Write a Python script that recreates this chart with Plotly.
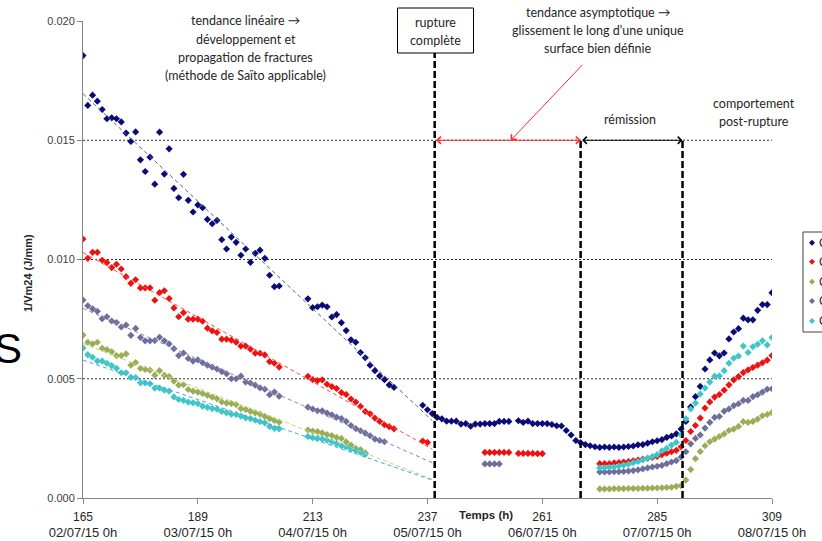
import numpy as np
import plotly.graph_objects as go

# ---- canvas / margins -------------------------------------------------------
W, H = 822, 541
M_L, M_R, M_T, M_B = 83, 50, 21, 43
PW, PH = W - M_L - M_R, H - M_T - M_B


def fx(px):
    """pixel column -> paper x"""
    return (px - M_L) / PW


def fy(py):
    """pixel row -> paper y"""
    return (H - M_B - py) / PH


# ---- axes -------------------------------------------------------------------
TICK_HOURS = [165, 189, 213, 237, 261, 285, 309]
TICK_DATES = ["02/07/15 0h", "03/07/15 0h", "04/07/15 0h", "05/07/15 0h",
              "06/07/15 0h", "07/07/15 0h", "08/07/15 0h"]
Y_TICKS = [0.000, 0.005, 0.010, 0.015, 0.020]
GRID_Y = [0.005, 0.010, 0.015]

# ---- phases (hours) ---------------------------------------------------------
RUPTURE_H = 238.5
REMISSION_START_H = 269.0
REMISSION_END_H = 290.3
TREND_FIT_END_H = 231
TREND_END_H = 238

SERIES_NAMES = ["Capteur 1", "Capteur 2", "Capteur 3", "Capteur 4", "Capteur 5"]
SERIES_COLORS = ["#0a0a78", "#ee1111", "#9aae58", "#6e6e9c", "#3ec6c8"]
TREND_COLORS = ["#56648c", "#ff4a4a", "#c4d86a", "#8c86b8", "#45a8dc"]

# ---- measurements: 1/Vm24 (J/mm) ----------------------------------------------
c1_hours = [*range(165, 207), *range(212, 231), *range(236, 255), *range(256, 310)]
c1_values = [
    0.01855, 0.01646, 0.01689, 0.01664, 0.01629, 0.01590, 0.01594, 0.01590, 0.01577, 0.01530,
    0.01495, 0.01535, 0.01418, 0.01369, 0.01429, 0.01316, 0.01534, 0.01358, 0.01464, 0.01298,
    0.01259, 0.01357, 0.01248, 0.01199, 0.01229, 0.01217, 0.01168, 0.01150, 0.01164, 0.01083,
    0.01044, 0.01094, 0.01072, 0.01018, 0.01044, 0.00988, 0.01026, 0.01039, 0.01005, 0.00934,
    0.00886, 0.00889,
    0.00835, 0.00798, 0.00802, 0.00809, 0.00802, 0.00759, 0.00769, 0.00735, 0.00702, 0.00663,
    0.00653, 0.00610, 0.00588, 0.00557, 0.00534, 0.00512, 0.00496, 0.00474, 0.00464,
    0.00389, 0.00370, 0.00354, 0.00338, 0.00332, 0.00322, 0.00322, 0.00322, 0.00310, 0.00312,
    0.00301, 0.00310, 0.00310, 0.00312, 0.00312, 0.00312, 0.00321, 0.00321, 0.00321,
    0.00324, 0.00317, 0.00322, 0.00312, 0.00312, 0.00312, 0.00312, 0.00308, 0.00303, 0.00302,
    0.00283, 0.00264, 0.00241, 0.00232, 0.00224, 0.00219, 0.00215, 0.00212, 0.00214, 0.00212,
    0.00214, 0.00212, 0.00214, 0.00216, 0.00218, 0.00223, 0.00224, 0.00230, 0.00236, 0.00240,
    0.00245, 0.00254, 0.00260, 0.00269, 0.00289, 0.00321, 0.00382, 0.00425, 0.00468, 0.00541,
    0.00579, 0.00608, 0.00596, 0.00608, 0.00667, 0.00696, 0.00710, 0.00754, 0.00747, 0.00747,
    0.00787, 0.00811, 0.00811, 0.00861,
]

c2_hours = [*range(165, 207), *range(212, 231), 236, 237,
            *range(249, 255), *range(256, 262), *range(273, 310)]
c2_values = [
    0.01086, 0.01005, 0.01030, 0.01030, 0.00997, 0.00987, 0.00966, 0.00980, 0.00960, 0.00928,
    0.00900, 0.00915, 0.00881, 0.00881, 0.00881, 0.00829, 0.00861, 0.00869, 0.00836, 0.00797,
    0.00760, 0.00777, 0.00750, 0.00750, 0.00750, 0.00741, 0.00712, 0.00701, 0.00694, 0.00666,
    0.00666, 0.00662, 0.00653, 0.00637, 0.00637, 0.00624, 0.00607, 0.00607, 0.00600, 0.00572,
    0.00565, 0.00549,
    0.00510, 0.00496, 0.00492, 0.00495, 0.00477, 0.00467, 0.00459, 0.00442, 0.00434, 0.00415,
    0.00402, 0.00384, 0.00363, 0.00353, 0.00335, 0.00321, 0.00307, 0.00299, 0.00290,
    0.00239, 0.00233,
    0.00191, 0.00191, 0.00191, 0.00191, 0.00191, 0.00191,
    0.00187, 0.00187, 0.00187, 0.00187, 0.00186, 0.00186,
    0.00144, 0.00144, 0.00144, 0.00147, 0.00149, 0.00151, 0.00153, 0.00156, 0.00159, 0.00163,
    0.00166, 0.00170, 0.00174, 0.00182, 0.00188, 0.00194, 0.00200, 0.00215, 0.00241, 0.00279,
    0.00304, 0.00335, 0.00377, 0.00403, 0.00423, 0.00434, 0.00452, 0.00474, 0.00495, 0.00509,
    0.00526, 0.00537, 0.00547, 0.00557, 0.00567, 0.00578, 0.00597,
]

c3_hours = [*range(165, 207), *range(212, 225), *range(273, 310)]
c3_values = [
    0.00683, 0.00653, 0.00646, 0.00653, 0.00628, 0.00622, 0.00613, 0.00597, 0.00597, 0.00604,
    0.00557, 0.00568, 0.00543, 0.00539, 0.00536, 0.00515, 0.00534, 0.00515, 0.00509, 0.00490,
    0.00473, 0.00475, 0.00455, 0.00448, 0.00444, 0.00438, 0.00431, 0.00423, 0.00416, 0.00403,
    0.00398, 0.00396, 0.00392, 0.00375, 0.00371, 0.00363, 0.00357, 0.00352, 0.00342, 0.00333,
    0.00325, 0.00318,
    0.00285, 0.00281, 0.00279, 0.00273, 0.00266, 0.00262, 0.00254, 0.00250, 0.00235, 0.00222,
    0.00208, 0.00203, 0.00189,
    0.00038, 0.00038, 0.00038, 0.00039, 0.00039, 0.00039, 0.00040, 0.00040, 0.00040, 0.00041,
    0.00041, 0.00042, 0.00042, 0.00043, 0.00044, 0.00045, 0.00049, 0.00052, 0.00075, 0.00119,
    0.00165, 0.00195, 0.00219, 0.00236, 0.00247, 0.00258, 0.00269, 0.00283, 0.00289, 0.00300,
    0.00320, 0.00317, 0.00321, 0.00331, 0.00345, 0.00350, 0.00358,
]

c4_hours = [*range(165, 207), *range(212, 229), *range(249, 253), *range(273, 310)]
c4_values = [
    0.00830, 0.00806, 0.00793, 0.00783, 0.00752, 0.00760, 0.00742, 0.00736, 0.00717, 0.00725,
    0.00682, 0.00711, 0.00673, 0.00659, 0.00659, 0.00660, 0.00674, 0.00659, 0.00646, 0.00626,
    0.00597, 0.00608, 0.00585, 0.00574, 0.00579, 0.00567, 0.00557, 0.00549, 0.00541, 0.00530,
    0.00521, 0.00500, 0.00500, 0.00511, 0.00486, 0.00482, 0.00473, 0.00462, 0.00456, 0.00433,
    0.00444, 0.00427,
    0.00381, 0.00373, 0.00366, 0.00366, 0.00356, 0.00349, 0.00339, 0.00333, 0.00321, 0.00304,
    0.00291, 0.00282, 0.00272, 0.00261, 0.00247, 0.00241, 0.00236,
    0.00143, 0.00143, 0.00143, 0.00143,
    0.00109, 0.00109, 0.00109, 0.00110, 0.00110, 0.00111, 0.00113, 0.00115, 0.00118, 0.00122,
    0.00126, 0.00130, 0.00133, 0.00137, 0.00144, 0.00151, 0.00157, 0.00172, 0.00194, 0.00227,
    0.00250, 0.00264, 0.00293, 0.00317, 0.00338, 0.00342, 0.00364, 0.00373, 0.00387, 0.00395,
    0.00409, 0.00409, 0.00425, 0.00433, 0.00444, 0.00456, 0.00458,
]

c5_hours = [*range(165, 207), *range(212, 225), *range(273, 310)]
c5_values = [
    0.00629, 0.00601, 0.00590, 0.00574, 0.00574, 0.00565, 0.00555, 0.00544, 0.00525, 0.00525,
    0.00506, 0.00505, 0.00483, 0.00482, 0.00479, 0.00461, 0.00461, 0.00452, 0.00448, 0.00424,
    0.00413, 0.00409, 0.00402, 0.00399, 0.00396, 0.00385, 0.00380, 0.00375, 0.00372, 0.00363,
    0.00358, 0.00351, 0.00350, 0.00343, 0.00336, 0.00333, 0.00326, 0.00320, 0.00315, 0.00300,
    0.00292, 0.00290,
    0.00258, 0.00253, 0.00250, 0.00247, 0.00242, 0.00236, 0.00228, 0.00219, 0.00214, 0.00206,
    0.00199, 0.00192, 0.00183,
    0.00126, 0.00127, 0.00129, 0.00130, 0.00134, 0.00138, 0.00142, 0.00148, 0.00153, 0.00160,
    0.00167, 0.00174, 0.00182, 0.00198, 0.00208, 0.00222, 0.00233, 0.00265, 0.00332, 0.00373,
    0.00398, 0.00436, 0.00461, 0.00486, 0.00511, 0.00512, 0.00534, 0.00565, 0.00586, 0.00595,
    0.00637, 0.00610, 0.00634, 0.00645, 0.00659, 0.00642, 0.00673,
]

ALL_HOURS = [c1_hours, c2_hours, c3_hours, c4_hours, c5_hours]
ALL_VALUES = [c1_values, c2_values, c3_values, c4_values, c5_values]

fig = go.Figure()

# measured points
for name, hrs, vals, col in zip(SERIES_NAMES, ALL_HOURS, ALL_VALUES, SERIES_COLORS):
    assert len(hrs) == len(vals), name
    fig.add_trace(go.Scatter(
        x=hrs, y=vals, mode="markers", name=name, showlegend=False,
        marker=dict(symbol="diamond", size=5.5, color=col, line=dict(width=0)),
    ))

# linear trend of the pre-rupture phase (least squares), extended to rupture
for hrs, vals, col in zip(ALL_HOURS, ALL_VALUES, TREND_COLORS):
    h = np.asarray(hrs, dtype=float)
    v = np.asarray(vals, dtype=float)
    sel = h <= TREND_FIT_END_H
    slope, icpt = np.polyfit(h[sel], v[sel], 1)
    xt = np.array([h[0], TREND_END_H])
    fig.add_trace(go.Scatter(
        x=xt, y=slope * xt + icpt, mode="lines", showlegend=False, hoverinfo="skip",
        line=dict(color=col, width=1, dash="4px,3px"),
    ))

shapes = []
# dotted horizontal grid
for gy in GRID_Y:
    shapes.append(dict(type="line", xref="x", yref="y", x0=TICK_HOURS[0], x1=TICK_HOURS[-1],
                       y0=gy, y1=gy, layer="below",
                       line=dict(color="#303030", width=1, dash="2px,2px")))

# phase boundaries
VDASH = dict(color="black", width=2.5, dash="7px,3px")
shapes.append(dict(type="line", xref="x", yref="paper", x0=RUPTURE_H, x1=RUPTURE_H,
                   y0=0, y1=fy(53), line=VDASH))
for hx in (REMISSION_START_H, REMISSION_END_H):
    shapes.append(dict(type="line", xref="x", yref="y", x0=hx, x1=hx,
                       y0=0, y1=0.015, line=VDASH))

# box around "rupture complète"
shapes.append(dict(type="rect", xref="paper", yref="paper",
                   x0=fx(397.5), x1=fx(473.5), y0=fy(53), y1=fy(8),
                   line=dict(color="black", width=1), fillcolor="white"))

# legend frame (runs past the right edge of the page)
shapes.append(dict(type="rect", xref="paper", yref="paper",
                   x0=fx(803), x1=fx(860), y0=fy(332), y1=fy(232),
                   line=dict(color="#404040", width=1), fillcolor="white"))
LEG_ROWS = [242.7, 261.7, 281.7, 301.0, 321.0]
for row, col in zip(LEG_ROWS, SERIES_COLORS):
    shapes.append(dict(type="path", xref="paper", yref="paper",
                       xsizemode="pixel", ysizemode="pixel",
                       xanchor=fx(812), yanchor=fy(row),
                       path="M0,3 L3,0 L0,-3 L-3,0 Z",
                       fillcolor=col, line=dict(width=0)))

annotations = []
TXT = dict(family="Lato, 'Open Sans', sans-serif", size=12.5, color="#262626")


def text_block(lines, cx, first_cy, spacing=18.3):
    for i, line in enumerate(lines):
        annotations.append(dict(
            text=line, xref="paper", yref="paper", x=fx(cx), y=fy(first_cy + i * spacing),
            xanchor="center", yanchor="middle", showarrow=False, font=TXT))


text_block(["tendance linéaire \u2192", "développement et",
            "propagation de fractures", "(méthode de Saïto applicable)"], 245.5, 20.7)
text_block(["rupture", "complète"], 435.6, 22.7)
text_block(["tendance asymptotique \u2192", "glissement le long d'une unique",
            "surface bien définie"], 598, 12.3)
text_block(["rémission"], 630, 120)
text_block(["comportement", "post-rupture"], 754, 103.3)

# legend labels
for row, name in zip(LEG_ROWS, SERIES_NAMES):
    annotations.append(dict(text=name, xref="paper", yref="paper", x=fx(817), y=fy(row),
                            xanchor="left", yanchor="middle", showarrow=False,
                            font=dict(family="Liberation Sans, Arial", size=12, color="#262626")))

# double arrows along 0.015
ARR = dict(xref="x", yref="y", axref="x", ayref="y", text="", showarrow=True,
           arrowside="end+start", arrowhead=4, startarrowhead=4,
           arrowsize=1.4, startarrowsize=1.4, arrowwidth=1, standoff=0, startstandoff=0)
annotations.append(dict(ARR, x=REMISSION_START_H, y=0.015, ax=RUPTURE_H, ay=0.015,
                        arrowcolor="#ff2a2a"))
annotations.append(dict(ARR, x=REMISSION_END_H, y=0.015, ax=REMISSION_START_H, ay=0.015,
                        arrowcolor="black"))
# pointer from the asymptotic-trend note
annotations.append(dict(xref="x", yref="y", axref="x", ayref="y", text="", showarrow=True,
                        x=254.4, y=0.015, ax=269.7, ay=0.01823, arrowhead=4,
                        arrowsize=1.4, arrowwidth=1, arrowcolor="#ff2a2a", standoff=0))

# axis titles
annotations.append(dict(text="<b>1/Vm24 (J/mm)</b>", xref="paper", yref="paper",
                        x=fx(28), y=fy(273), textangle=-90, showarrow=False,
                        xanchor="center", yanchor="middle",
                        font=dict(family="Liberation Sans, Arial", size=11, color="#262626")))
annotations.append(dict(text="<b>Temps (h)</b>", xref="paper", yref="paper",
                        x=fx(486), y=fy(515), showarrow=False,
                        xanchor="center", yanchor="middle",
                        font=dict(family="Liberation Sans, Arial", size=11.5, color="#262626")))

# large letter at the left edge of the page
annotations.append(dict(text="S", xref="paper", yref="paper", x=fx(-8), y=fy(348),
                        xanchor="left", yanchor="middle", showarrow=False,
                        font=dict(family="Liberation Sans, Arial", size=42, color="black")))

fig.update_layout(
    width=W, height=H,
    margin=dict(l=M_L, r=M_R, t=M_T, b=M_B, pad=0, autoexpand=False),
    paper_bgcolor="white", plot_bgcolor="white",
    showlegend=False,
    shapes=shapes, annotations=annotations,
    xaxis=dict(
        range=[TICK_HOURS[0], TICK_HOURS[-1]], tickmode="array", tickvals=TICK_HOURS,
        ticktext=[f"{h}<br><span style='font-size:13px'>{d}</span>"
                  for h, d in zip(TICK_HOURS, TICK_DATES)],
        ticks="outside", ticklen=5, tickcolor="#868686", showline=True,
        linecolor="#868686", linewidth=1, showgrid=False, zeroline=False,
        ticklabelstandoff=3,
        tickfont=dict(family="Liberation Sans, Arial", size=12, color="#262626"),
    ),
    yaxis=dict(
        range=[Y_TICKS[0], Y_TICKS[-1]], tickmode="array", tickvals=Y_TICKS,
        ticktext=[f"{t:.3f}" for t in Y_TICKS],
        ticks="outside", ticklen=5, tickcolor="#868686", showline=True,
        linecolor="#868686", linewidth=1, showgrid=False, zeroline=False,
        tickfont=dict(family="Liberation Sans, Arial", size=11, color="#404040"),
    ),
)

fig.write_html("out.html")
